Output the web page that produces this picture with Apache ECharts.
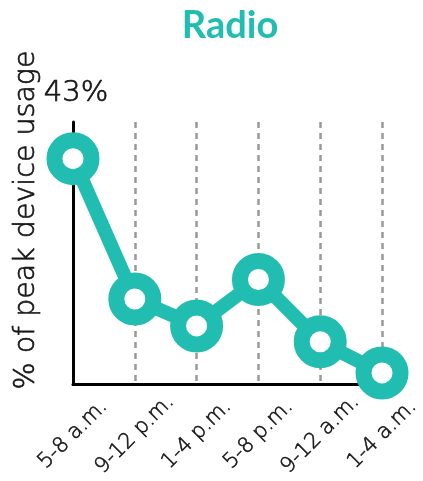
<!DOCTYPE html>
<html>
<head>
<meta charset="utf-8">
<script src="https://cdn.jsdelivr.net/npm/echarts@6/dist/echarts.min.js"></script>
<style>
  html, body { margin: 0; padding: 0; background: #fff; }
  #chart { width: 423px; height: 481px; }
</style>
</head>
<body>
<div id="chart"></div>
<script>
// Radio listening across the day, as % of peak device usage
const timeSlots = ['5-8 a.m.', '9-12 p.m.', '1-4 p.m.', '5-8 p.m.', '9-12 a.m.', '1-4 a.m.'];
const usageValues = [37, 14, 9.6, 17.2, 7, 1.9];
const axisMax = 43;
const axisMaxLabel = '43%';
const yTitle = '% of peak device usage';
const chartTitle = 'Radio';

const teal = '#22BDB1';
const ink = '#161616';
const textFont = '"DejaVu Sans", "Noto Sans", sans-serif';
const titleFont = 'Lato, "Noto Sans", sans-serif';

const chart = echarts.init(document.getElementById('chart'), null, { renderer: 'canvas' });

chart.setOption({
  animation: false,
  backgroundColor: '#fff',
  title: {
    text: chartTitle,
    left: 225,
    top: 2,
    textAlign: 'center',
    textStyle: { color: teal, fontSize: 38, fontWeight: 'bold', fontFamily: titleFont }
  },
  grid: { left: 73, right: 40.5, top: 122, bottom: 96.5 },
  xAxis: {
    type: 'category',
    data: timeSlots,
    boundaryGap: false,
    axisLine: { show: true, lineStyle: { color: '#000', width: 3 } },
    axisTick: { show: false },
    axisLabel: {
      interval: 0,
      rotate: 45,
      align: 'center',
      verticalAlign: 'middle',
      margin: 50,
      color: ink,
      fontSize: 21,
      fontWeight: 200,
      textBorderColor: ink,
      textBorderWidth: 0.6,
      fontFamily: textFont
    },
    splitLine: {
      show: true,
      lineStyle: { color: '#999', width: 2.5, type: [6, 5] }
    }
  },
  yAxis: {
    type: 'value',
    min: 0,
    max: axisMax,
    axisLine: { show: true, lineStyle: { color: '#000', width: 3 } },
    axisTick: { show: false },
    axisLabel: { show: false },
    splitLine: { show: false }
  },
  graphic: [{
    type: 'text',
    x: 76,
    y: 93,
    style: {
      text: axisMaxLabel,
      align: 'center',
      verticalAlign: 'middle',
      fill: ink,
      stroke: ink,
      lineWidth: 0.7,
      font: '200 29px ' + textFont
    }
  }, {
    type: 'text',
    x: 27,
    y: 220,
    rotation: Math.PI / 2,
    style: {
      text: yTitle,
      x: 0,
      y: 0,
      align: 'center',
      verticalAlign: 'middle',
      fill: ink,
      stroke: ink,
      lineWidth: 0.7,
      font: '200 28.5px ' + textFont
    }
  }],
  series: [{
    type: 'line',
    data: usageValues,
    symbol: 'circle',
    symbolSize: 37,
    lineStyle: { color: teal, width: 14 },
    itemStyle: { color: '#fff', borderColor: teal, borderWidth: 16 },
    z: 3
  }]
});
</script>
</body>
</html>
